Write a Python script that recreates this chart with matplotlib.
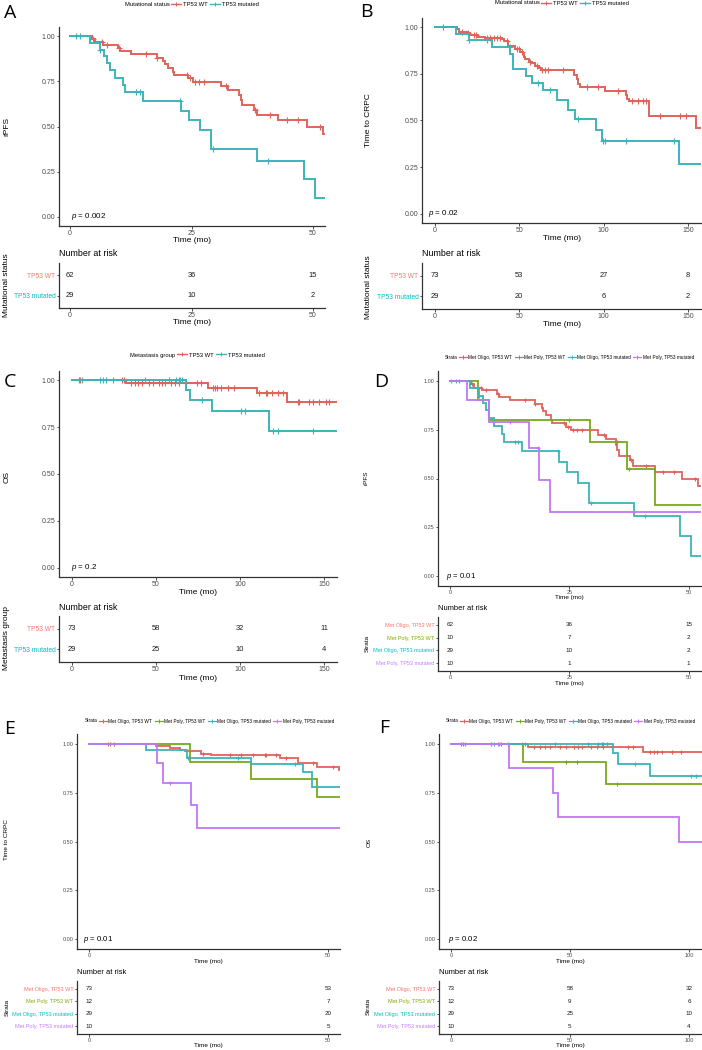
import numpy as np
import matplotlib
matplotlib.use("Agg")
import matplotlib.pyplot as plt
from matplotlib.lines import Line2D

plt.rcParams['font.family'] = ['Liberation Sans', 'DejaVu Sans']
plt.rcParams['mathtext.fontset'] = 'custom'
plt.rcParams['mathtext.it'] = 'Liberation Sans:italic'
plt.rcParams['mathtext.rm'] = 'Liberation Sans'

# ---------------- colours ----------------
RED, CYAN, GREEN, PURPLE = '#E0635B', '#3DB4B9', '#7AA81A', '#C177F7'
RED_T, CYAN_T, GREEN_T, PURPLE_T = '#F8766D', '#00BFC4', '#7CAE00', '#C77CFF'

# ---------------- data ----------------
# rPFS, TP53 WT (= Met Oligo, TP53 WT in D)
rpfs_wt_t = [4.4, 5.1, 6.8, 9.9, 10.2, 12.6, 17.8, 19.2, 19.6, 20.2, 21.1, 21.3, 24.3, 25.3,
             31.1, 32.6, 34.8, 35.1, 35.5, 37.8, 38.4, 42.9, 48.7, 52.0]
rpfs_wt_s = [0.983, 0.965, 0.952, 0.934, 0.917, 0.902, 0.880, 0.862, 0.843, 0.823, 0.801, 0.783,
             0.766, 0.748, 0.722, 0.703, 0.672, 0.648, 0.617, 0.593, 0.562, 0.534, 0.497, 0.460]
rpfs_wt_c = [4.7, 6.5, 7.5, 10.0, 15.7, 17.8, 24.0, 24.7, 25.7, 26.6, 27.6, 32.2, 38.0, 41.1,
             44.6, 47.0, 51.4]
# rPFS, TP53 mutated (= Met Oligo, TP53 mutated in D)
rpfs_mu_t = [4.1, 6.1, 6.9, 7.5, 8.2, 9.2, 10.9, 11.3, 15.0, 22.9, 24.5, 26.8, 29.1, 38.5, 48.2, 50.5]
rpfs_mu_s = [0.961, 0.924, 0.888, 0.851, 0.810, 0.770, 0.727, 0.689, 0.641, 0.586, 0.534, 0.479,
             0.374, 0.309, 0.208, 0.105]
rpfs_mu_c = [1.3, 2.0, 6.1, 13.6, 14.3, 22.6, 29.5, 40.8]
# rPFS, Met Poly TP53 WT / mutated (D)
rpfs_pwt_t = [5.9, 8.1, 29.4, 37.0, 42.9]
rpfs_pwt_s = [0.90, 0.80, 0.686, 0.549, 0.366]
rpfs_pwt_c = [25.0, 35.0, 37.5]
rpfs_pmu_t = [3.6, 8.1, 16.5, 18.7, 20.9]
rpfs_pmu_s = [0.90, 0.788, 0.656, 0.492, 0.328]
rpfs_pmu_c = [0.3, 12.6, 18.4]
rpfs_end = 52.5

# Time to CRPC (B)
crpc_wt_t = [12.8, 14.2, 19.1, 20.5, 25.6, 29.9, 39.8, 41.1, 43.3, 47.6, 50.6, 52.2, 52.6, 53.5,
             55.5, 57.5, 59.4, 61.8, 62.8, 82.5, 84.0, 85.0, 86.0, 101.0, 113.6, 114.0, 115.2,
             127.0, 155.0]
crpc_wt_s = [0.989, 0.977, 0.968, 0.961, 0.950, 0.945, 0.936, 0.925, 0.900, 0.882, 0.868, 0.857,
             0.843, 0.829, 0.816, 0.807, 0.795, 0.781, 0.772, 0.745, 0.722, 0.697, 0.679, 0.656,
             0.638, 0.615, 0.602, 0.526, 0.460]
crpc_wt_c = [4.9, 16.1, 19.5, 23.0, 24.6, 30.9, 32.9, 34.8, 36.8, 38.8, 42.7, 48.6, 49.6, 51.6,
             56.5, 60.4, 63.4, 65.4, 67.3, 76.2, 90.0, 96.9, 108.7, 116.6, 120.5, 123.4, 125.4,
             133.3, 145.1, 149.0]
crpc_mu_t = [12.2, 20.1, 33.9, 44.7, 46.3, 53.9, 57.5, 63.8, 72.6, 79.1, 83.1, 95.3, 98.8, 144.7]
crpc_mu_s = [0.966, 0.931, 0.897, 0.857, 0.779, 0.740, 0.700, 0.661, 0.611, 0.558, 0.510, 0.451,
             0.392, 0.264]
crpc_mu_c = [20.1, 30.9, 44.3, 61.4, 68.3, 85.0, 99.8, 100.8, 113.6, 141.5]
crpc_end = 157.0

# Time to CRPC by strata (E)
e_owt_t = [14.1, 16.9, 19.0, 20.0, 23.5, 25.6, 40.0, 43.7, 47.6, 52.3]
e_owt_s = [0.988, 0.978, 0.969, 0.961, 0.949, 0.944, 0.928, 0.901, 0.881, 0.864]
e_owt_c = [4.5, 5.2, 23.8, 29.4, 31.9, 34.3, 36.8, 37.1, 39.2, 41.3, 46.9, 51.0]
e_pwt_t = [21.1, 33.8, 47.6]
e_pwt_s = [0.908, 0.818, 0.727]
e_pwt_c = [4.0]
e_omu_t = [11.9, 20.4, 33.8, 44.8, 46.7]
e_omu_s = [0.966, 0.928, 0.894, 0.855, 0.778]
e_omu_c = [20.7, 31.2, 43.0]
e_pmu_t = [14.3, 15.5, 21.3, 22.5]
e_pmu_s = [0.90, 0.80, 0.686, 0.571]
e_pmu_c = [16.9]
e_end = 52.5

# OS (C; Met Oligo curves in F)
os_wt_t = [32.3, 80.9, 110.0, 127.7]
os_wt_s = [0.986, 0.959, 0.931, 0.885]
os_wt_c = [4.2, 4.9, 29.9, 31.0, 34.9, 37.3, 39.4, 41.8, 45.8, 48.3, 51.8, 53.5, 55.2, 58.9, 61.3,
           63.8, 67.6, 74.5, 76.5, 83.8, 85.2, 86.6, 88.7, 93.0, 96.5, 111.4, 115.3, 116.3, 119.3,
           122.3, 125.3, 134.3, 135.3, 141.2, 143.2, 147.2, 151.2, 153.2]
os_mu_t = [67.9, 70.1, 83.5, 117.0]
os_mu_s = [0.951, 0.897, 0.837, 0.732]
os_mu_c = [6.1, 16.9, 18.3, 20.4, 24.2, 43.7, 57.7, 62.0, 63.4, 64.1, 65.5, 77.5, 100.7, 102.8,
           119.9, 122.3, 143.2]
os_end = 158.6
# OS Met Poly (F)
os_pwt_t = [30.4, 65.1]
os_pwt_s = [0.908, 0.796]
os_pwt_c = [21.1, 48.2, 53.1, 69.7]
os_pmu_t = [24.4, 43.0, 45.0, 96.0]
os_pmu_s = [0.875, 0.750, 0.625, 0.500]
os_pmu_c = [16.9, 19.7]

# Number at risk tables
risk_A = {'TP53 WT': [62, 36, 15], 'TP53 mutated': [29, 10, 2]}
risk_B = {'TP53 WT': [73, 53, 27, 8], 'TP53 mutated': [29, 20, 6, 2]}
risk_C = {'TP53 WT': [73, 58, 32, 11], 'TP53 mutated': [29, 25, 10, 4]}
risk_D = {'Met Oligo, TP53 WT': [62, 36, 15], 'Met Poly, TP53 WT': [10, 7, 2],
          'Met Oligo, TP53 mutated': [29, 10, 2], 'Met Poly, TP53 mutated': [10, 1, 1]}
risk_E = {'Met Oligo, TP53 WT': [73, 53], 'Met Poly, TP53 WT': [12, 7],
          'Met Oligo, TP53 mutated': [29, 20], 'Met Poly, TP53 mutated': [10, 5]}
risk_F = {'Met Oligo, TP53 WT': [73, 58, 32], 'Met Poly, TP53 WT': [12, 9, 6],
          'Met Oligo, TP53 mutated': [29, 25, 10], 'Met Poly, TP53 mutated': [10, 5, 4]}

ticks_25 = [0, 25, 50]
ticks_50 = [0, 50, 100, 150]
ticks_E = [0, 50]
ticks_F = [0, 50, 100]
yticks = [0, 0.25, 0.5, 0.75, 1.0]
ytick_labels = ['0.00', '0.25', '0.50', '0.75', '1.00']

COLS2 = [RED, CYAN]
COLS4 = [RED, GREEN, CYAN, PURPLE]
TCOLS2 = [RED_T, CYAN_T]
TCOLS4 = [RED_T, GREEN_T, CYAN_T, PURPLE_T]

# ---------------- figure ----------------
W, H = 702, 1050
fig = plt.figure(figsize=(W / 100, H / 100), dpi=100)
AX_C = '#333333'
TXT_C = '#4D4D4D'


def box(l, t, r, b):
    return [l / W, 1 - b / H, (r - l) / W, (b - t) / H]


def style(ax, fs):
    for s in ['top', 'right']:
        ax.spines[s].set_visible(False)
    for s in ['left', 'bottom']:
        ax.spines[s].set_linewidth(0.9)
        ax.spines[s].set_color(AX_C)
    ax.tick_params(length=1.8, width=0.6, color=AX_C, labelsize=fs, pad=0.9, labelcolor=TXT_C)
    ax.set_facecolor('none')


def km(ax, times, surv, end, cens, color, lw, ms):
    t = np.asarray(times, float)
    s = np.asarray(surv, float)
    x = np.concatenate([[0.0], t, [end]])
    y = np.concatenate([[1.0], s, [s[-1]]])
    ax.step(x, y, where='post', color=color, lw=lw, solid_joinstyle='miter')
    c = np.asarray(cens, float)
    idx = np.searchsorted(t, c, side='right')
    yc = np.concatenate([[1.0], s])[idx]
    ax.plot(c, yc, ls='none', marker='+', color=color, ms=ms, mew=0.8)


def main_panel(bx, curves, xlim, xticks, ylabel, ylab_xy, xlab_y, ptxt, px, fs_tick, fs_lab,
               fs_p, lw, ms):
    ax = fig.add_axes(box(*bx))
    for (t, s, e, c, col) in curves:
        km(ax, t, s, e, c, col, lw, ms)
    ax.set_xlim(*xlim)
    ax.set_ylim(-0.05, 1.05)
    ax.set_xticks(xticks)
    ax.set_yticks(yticks)
    ax.set_yticklabels(ytick_labels)
    style(ax, fs_tick)
    ax.set_xlabel('Time (mo)', fontsize=fs_lab, color='black')
    ax.xaxis.set_label_coords(0.5, -(xlab_y - bx[3]) / (bx[3] - bx[1]))
    ax.xaxis.label.set_va('center')
    fig.text(ylab_xy[0] / W, 1 - ylab_xy[1] / H, ylabel, rotation=90, ha='center', va='center',
             fontsize=fs_lab)
    ax.text(px, 0.0, r'$\mathit{p}$ = ' + ptxt, fontsize=fs_p, ha='left', va='center')
    return ax


def risk_table(bx, table, colors, xlim, xticks, title_xy, ylabel, ylab_xy, xlab_y, fs_title,
               fs_num, fs_strata, fs_tick, fs_lab):
    ax = fig.add_axes(box(*bx))
    labels = list(table.keys())
    n = len(labels)
    for i, lab in enumerate(labels):
        yy = n - i
        for t, v in zip(xticks, table[lab]):
            ax.text(t, yy, str(v), ha='center', va='center', fontsize=fs_num, color='#1a1a1a')
    ax.set_xlim(*xlim)
    ax.set_ylim(0.4, n + 0.6)
    ax.set_xticks(xticks)
    ax.set_yticks([n - i for i in range(n)])
    style(ax, fs_tick)
    ax.set_yticklabels(labels, fontsize=fs_strata)
    for tl, col in zip(ax.get_yticklabels(), colors):
        tl.set_color(col)
    ax.set_xlabel('Time (mo)', fontsize=fs_lab, color='black')
    ax.xaxis.set_label_coords(0.5, -(xlab_y - bx[3]) / (bx[3] - bx[1]))
    ax.xaxis.label.set_va('center')
    fig.text(title_xy[0] / W, 1 - title_xy[1] / H, 'Number at risk', ha='left', va='center',
             fontsize=fs_title)
    fig.text(ylab_xy[0] / W, 1 - ylab_xy[1] / H, ylabel, rotation=90, ha='center', va='center',
             fontsize=fs_lab)
    return ax


def legend(title, labels, colors, x, y, fs, lw, ms):
    handles = [Line2D([], [], color=c, lw=lw, marker='+', ms=ms, mew=0.7) for c in colors]
    fig.legend(handles, labels, loc='center left', bbox_to_anchor=(x / W, 1 - y / H),
               ncol=len(labels), frameon=False, fontsize=fs, handlelength=1.7,
               handletextpad=0.3, columnspacing=0.5, borderpad=0, borderaxespad=0)
    fig.text((x - 1.5) / W, 1 - y / H, title, ha='right', va='center', fontsize=fs)


def panel_label(txt, x, y, fs):
    fig.text(x / W, 1 - y / H, txt, ha='center', va='center', fontsize=fs,
             family=['Open Sans', 'DejaVu Sans'])


lab2 = ['TP53 WT', 'TP53 mutated']
lab4 = list(risk_D.keys())

# ---- A ----
panel_label('A', 10, 13, 14)
legend('Mutational status', lab2, COLS2, 171, 4, 4.2, 1.0, 3)
main_panel((59, 27, 325, 226),
           [(rpfs_wt_t, rpfs_wt_s, rpfs_end, rpfs_wt_c, RED),
            (rpfs_mu_t, rpfs_mu_s, rpfs_end, rpfs_mu_c, CYAN)],
           (-2.3, 52.5), ticks_25, 'rPFS', (7, 126), 240, '0.002', 0.2, 5.0, 6.0, 5.8, 1.4, 4.2)
risk_table((59, 263, 325, 308), risk_A, TCOLS2, (-2.3, 52.5), ticks_25, (59, 254),
           'Mutational status', (7, 285), 323, 6.4, 5.4, 4.8, 5.0, 6.0)

# ---- B ----
panel_label('B', 366, 12, 14)
legend('Mutational status', lab2, COLS2, 541, 3, 4.2, 1.0, 3)
main_panel((422, 18, 702, 223),
           [(crpc_wt_t, crpc_wt_s, crpc_end, crpc_wt_c, RED),
            (crpc_mu_t, crpc_mu_s, crpc_end, crpc_mu_c, CYAN)],
           (-7.7, 158.4), ticks_50, 'Time to CRPC', (369, 120), 238, '0.02', -4.0, 5.0, 6.0,
           5.8, 1.4, 4.2)
risk_table((422, 263, 702, 309), risk_B, TCOLS2, (-7.7, 158.4), ticks_50, (422, 253),
           'Mutational status', (369, 287), 324, 6.4, 5.4, 4.8, 5.0, 6.0)

# ---- C ----
panel_label('C', 10, 382, 14)
legend('Metastasis group', lab2, COLS2, 177, 355, 4.2, 1.0, 3)
main_panel((59, 371, 337, 577),
           [(os_wt_t, os_wt_s, os_end, os_wt_c, RED),
            (os_mu_t, os_mu_s, os_end, os_mu_c, CYAN)],
           (-7.7, 157.7), ticks_50, 'OS', (7, 477), 592, '0.2', -0.6, 5.0, 6.0, 5.8, 1.4, 4.2)
risk_table((59, 616, 337, 662), risk_C, TCOLS2, (-7.7, 157.7), ticks_50, (59, 608),
           'Metastasis group', (6, 638), 678, 6.4, 5.4, 4.8, 5.0, 6.0)

# ---- D ----
panel_label('D', 381, 382, 14)
legend('Strata', lab4, COLS4, 459, 357, 3.4, 0.9, 2.5)
main_panel((438, 371, 701, 586),
           [(rpfs_wt_t, rpfs_wt_s, rpfs_end, rpfs_wt_c, RED),
            (rpfs_pwt_t, rpfs_pwt_s, rpfs_end, rpfs_pwt_c, GREEN),
            (rpfs_mu_t, rpfs_mu_s, rpfs_end, rpfs_mu_c, CYAN),
            (rpfs_pmu_t, rpfs_pmu_s, rpfs_end, rpfs_pmu_c, PURPLE)],
           (-2.5, 52.6), ticks_25, 'rPFS', (366, 478), 598, '0.01', -0.8, 4.0, 4.6, 5.6, 1.3, 3.4)
risk_table((438, 617, 701, 671), risk_D, TCOLS4, (-2.5, 52.6), ticks_25, (438, 609),
           'Strata', (367, 643), 683, 5.4, 4.5, 4.0, 4.0, 4.6)

# ---- E ----
panel_label('E', 10, 729, 14)
legend('Strata', lab4, COLS4, 99, 721, 3.4, 0.9, 2.5)
main_panel((77, 734, 340, 949),
           [(e_owt_t, e_owt_s, e_end, e_owt_c, RED),
            (e_pwt_t, e_pwt_s, e_end, e_pwt_c, GREEN),
            (e_omu_t, e_omu_s, e_end, e_omu_c, CYAN),
            (e_pmu_t, e_pmu_s, e_end, e_pmu_c, PURPLE)],
           (-2.5, 52.5), ticks_E, 'Time to CRPC', (7, 840), 961, '0.01', -1.2, 4.0, 4.6, 5.6,
           1.3, 3.4)
risk_table((77, 981, 340, 1034), risk_E, TCOLS4, (-2.5, 52.5), ticks_E, (77, 973),
           'Strata', (7, 1007), 1046, 5.4, 4.5, 4.0, 4.0, 4.6)

# ---- F ----
panel_label('F', 384, 728, 14)
legend('Strata', lab4, COLS4, 460, 721, 3.4, 0.9, 2.5)
main_panel((439, 734, 702, 949),
           [(os_wt_t, os_wt_s, os_end, os_wt_c, RED),
            (os_pwt_t, os_pwt_s, os_end, os_pwt_c, GREEN),
            (os_mu_t, os_mu_s, os_end, os_mu_c, CYAN),
            (os_pmu_t, os_pmu_s, os_end, os_pmu_c, PURPLE)],
           (-5.0, 105.5), ticks_F, 'OS', (369, 842), 961, '0.02', -1.2, 4.0, 4.6, 5.6, 1.3, 3.4)
risk_table((439, 981, 702, 1034), risk_F, TCOLS4, (-5.0, 105.5), ticks_F, (439, 973),
           'Strata', (368, 1006), 1046, 5.4, 4.5, 4.0, 4.0, 4.6)

fig.savefig('out.png', dpi=100, facecolor='white')
